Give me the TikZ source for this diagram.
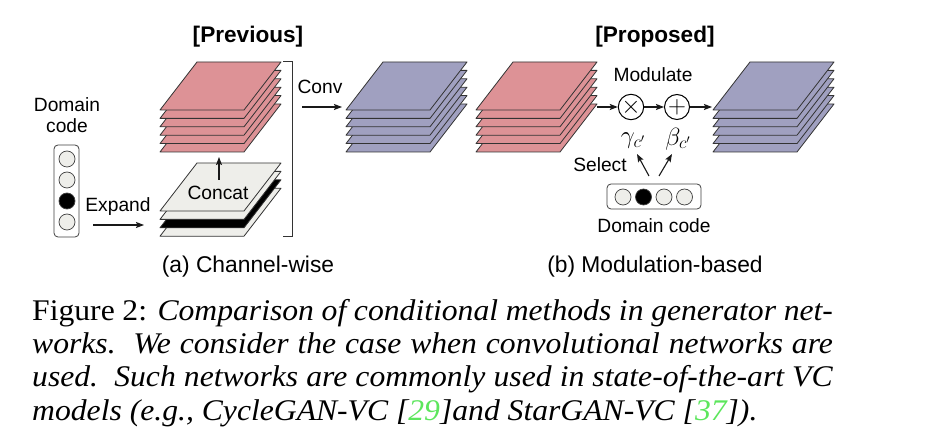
\documentclass[tikz,border=0pt]{standalone}
\usepackage{fontspec}
\setmainfont{Liberation Serif}
\setsansfont{Liberation Sans}
\usetikzlibrary{arrows.meta}
\definecolor{sheetred}{HTML}{DD9296}
\definecolor{sheetblue}{HTML}{A0A0C0}
\definecolor{sheetlight}{HTML}{EEEEEA}
\definecolor{sheetline}{HTML}{333333}
\definecolor{citegreen}{HTML}{5CE65C}
\newcommand\sheetlayer[3]{\draw[sheetstyle, fill=#3] (#1,#2) -- ++(84,0) -- ++(37,-48) -- ++(-84,0) -- cycle;}
\newcommand\sheetstack[3]{\foreach \i in {5,...,0}{\sheetlayer{#1}{#2+8.4*\i}{#3}}}
\newcommand\capfit[1]{\scalebox{1.055}[1]{\makebox[759pt][s]{#1}}}
\begin{document}
\begin{tikzpicture}[x=1pt,y=-1pt,
  sheetstyle/.style={draw=sheetline, line width=0.8pt, line join=round},
  lbl/.style={font=\sffamily\fontsize{19.2}{21.5}\selectfont, inner sep=0pt},
  sublbl/.style={font=\sffamily\fontsize{22.8}{27}\selectfont, inner sep=0pt},
  ttl/.style={font=\sffamily\bfseries\fontsize{22.6}{27}\selectfont, inner sep=0pt},
  arr/.style={-{Stealth[length=8pt,width=6pt,inset=1.5pt]}, line width=1.1pt, black!90},
  dot/.style={circle, draw=black!75, line width=0.7pt, fill=sheetlight, minimum size=16pt, inner sep=0pt},
  codebox/.style={draw=black!75, line width=0.8pt, rounded corners=4pt, fill=white, inner sep=0pt},
  opcirc/.style={circle, draw=black, line width=1pt, fill=white, minimum size=25pt, inner sep=0pt, font=\fontsize{23}{24}\selectfont},
  mathlbl/.style={inner sep=0pt, font=\fontsize{24}{26}\selectfont},
  capline/.style={anchor=base west, inner sep=0pt, font=\fontsize{30}{33}\selectfont}
]
\useasboundingbox (0,0) rectangle (930,443);
\fill[white] (0,0) rectangle (930,443);

% ---------- (a) Previous ----------
\node[ttl] (prevtitle) at (248,37) {[Previous]};
\node[lbl, align=center] (dclabel) at (67,115) {Domain\\code};
\node[codebox, minimum width=25pt, minimum height=92pt] (dcbox) at (66.5,191) {};
\node[dot] (dca) at (67,159) {};
\node[dot] (dcb) at (67,180) {};
\node[dot, fill=black] (dcc) at (67,201) {};
\node[dot] (dcd) at (67,222) {};
\node[lbl] (expand) at (118,207) {Expand};
\coordinate (expS) at (93,225);
\coordinate (expE) at (144,225);
\draw[arr] (expS) -- (expE);

% concat stack
\sheetlayer{160}{236.2}{sheetlight}
\sheetlayer{160}{227.8}{black}
\sheetlayer{160}{219.4}{sheetlight}
\sheetlayer{160}{211}{sheetlight}
\node[lbl] (concat) at (218,193) {Concat};
% red stack
\sheetstack{160}{110}{sheetred}
\coordinate (concatTop) at (219,180);
\coordinate (redBot) at (219,157);
\draw[arr] (concatTop) -- (redBot);

% bracket
\draw[line width=0.9pt, black!80] (283,61) -- (292,61) -- (292,236) -- (283,236);

\node[lbl] (conv) at (320,87) {Conv};
\coordinate (convS) at (302,107);
\coordinate (convE) at (342,107);
\draw[arr] (convS) -- (convE);
\sheetstack{346}{110}{sheetblue}

\node[sublbl] (suba) at (248,267) {(a) Channel-wise};

% ---------- (b) Proposed ----------
\node[ttl] (proptitle) at (655,37) {[Proposed]};
\sheetstack{476}{110}{sheetred}
\node[lbl] (modulate) at (653,75) {Modulate};
\node[opcirc] (mul) at (631,107) {$\times$};
\node[opcirc] (add) at (677,107) {$+$};
\coordinate (redOut) at (597,107);
\coordinate (blueIn) at (712,107);
\draw[arr] (redOut) -- (mul.west);
\draw[arr] (mul.east) -- (add.west);
\draw[arr] (add.east) -- (blueIn);
\sheetstack{713}{110}{sheetblue}

\node[mathlbl] (gam) at (633,141) {$\gamma_{c'}$};
\node[mathlbl] (bet) at (678,139) {$\beta_{c'}$};
\node[lbl] (select) at (600,165) {Select};
\coordinate (selA) at (649,176);
\coordinate (selAe) at (637,154);
\coordinate (selB) at (659,176);
\coordinate (selBe) at (672,154);
\draw[arr] (selA) -- (selAe);
\draw[arr] (selB) -- (selBe);

\node[codebox, minimum width=94pt, minimum height=25pt] (hbox) at (654,196.5) {};
\node[dot] (ha) at (623,197) {};
\node[dot, fill=black] (hb) at (643.5,197) {};
\node[dot] (hc) at (664,197) {};
\node[dot] (hd) at (684.5,197) {};
\node[lbl] (dclabel2) at (654,226) {Domain code};

\node[sublbl] (subb) at (655,267) {(b) Modulation-based};

% ---------- caption ----------
\node[capline] (cap1) at (32,320.5) {\capfit{Figure 2: \textit{Comparison of conditional methods in generator net-}}};
\node[capline] (cap2) at (32,353.8) {\capfit{\textit{works.\ \ We consider the case when convolutional networks are}}};
\node[capline] (cap3) at (32,387) {\capfit{\textit{used.\ \ Such networks are commonly used in state-of-the-art VC}}};
\node[capline] (cap4) at (32,420.3) {\scalebox{1.055}[1]{\textit{models (e.g., CycleGAN-VC [\textcolor{citegreen}{29}]and StarGAN-VC [\textcolor{citegreen}{37}]).}}};
\end{tikzpicture}
\end{document}
